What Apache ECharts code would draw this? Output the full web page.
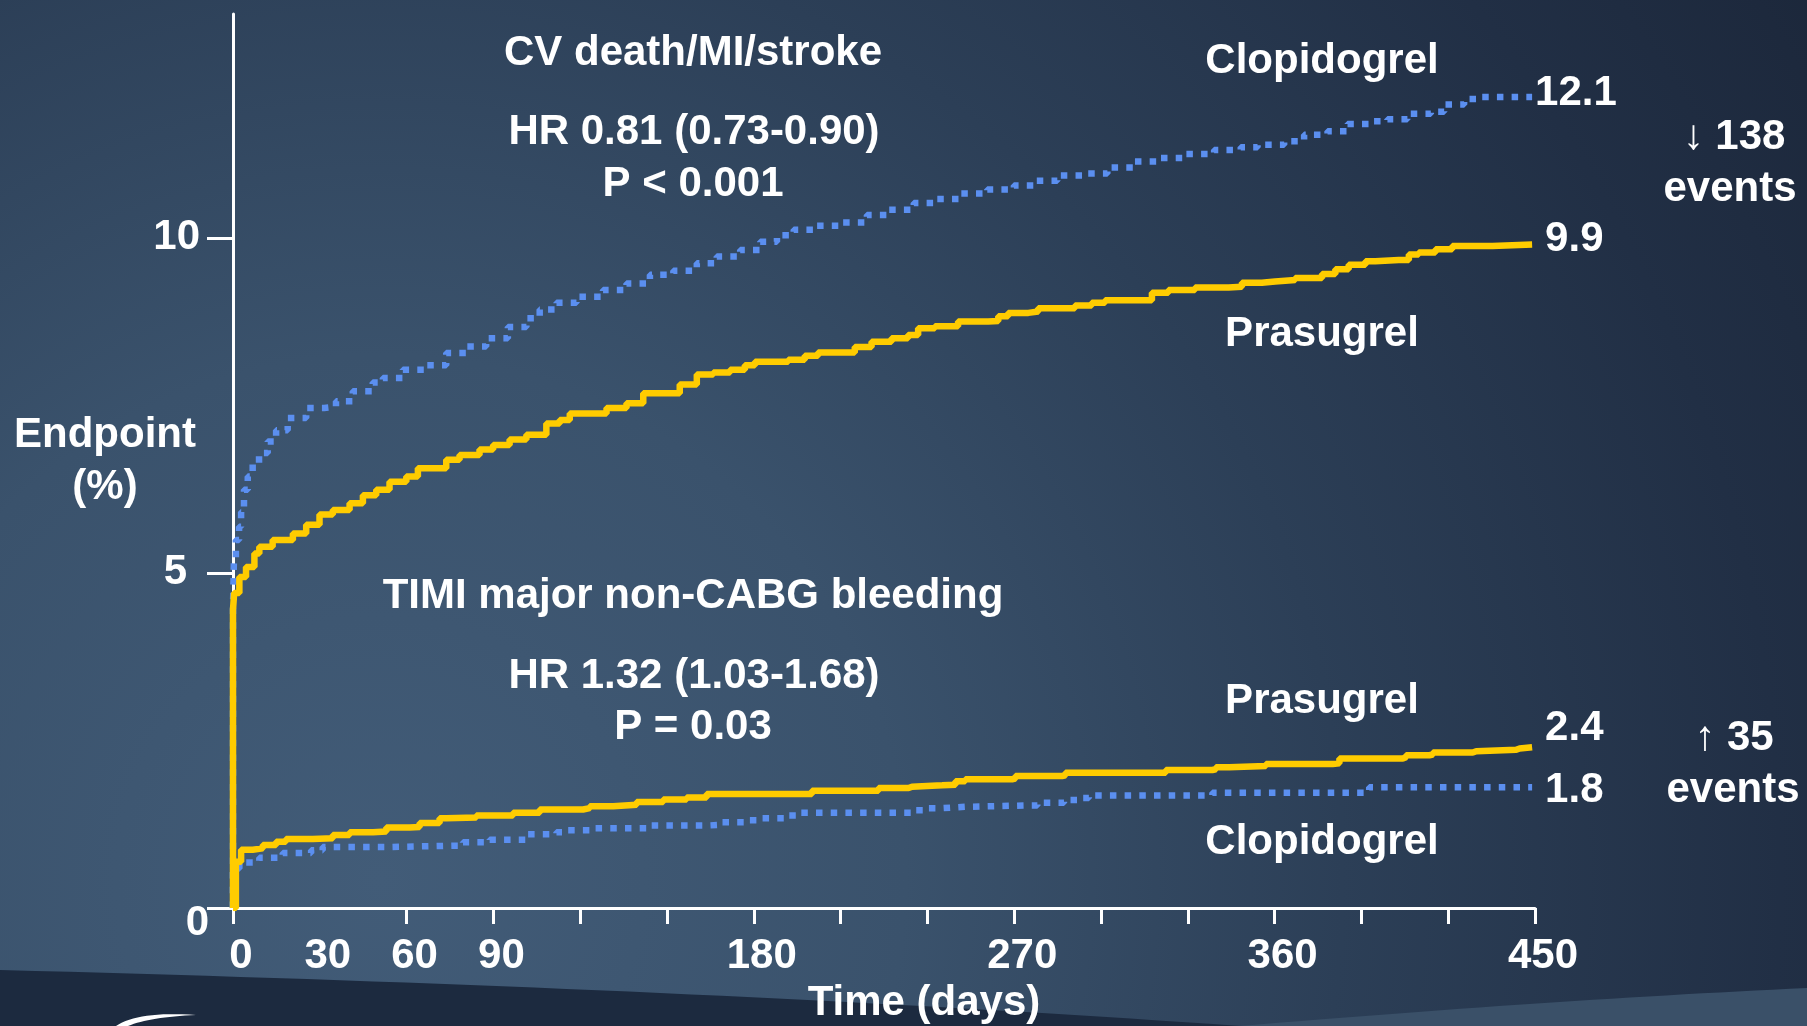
<!DOCTYPE html>
<html>
<head>
<meta charset="utf-8">
<title>CV death/MI/stroke and TIMI major non-CABG bleeding</title>
<script src="https://cdn.jsdelivr.net/npm/echarts@6/dist/echarts.min.js"></script>
<style>
  html, body { margin: 0; padding: 0; background: #1b2639; overflow: hidden; }
  #chart { width: 1807px; height: 1026px; }
</style>
</head>
<body>
<div id="chart"></div>
<script>
// Kaplan-Meier cumulative event rates, [day, percent]

// CV death / MI / stroke — clopidogrel
const cvClopidogrel = [
  [0, 0], [0, 4.5], [0.3, 5.15], [1.0, 5.49], [2.1, 5.69], [2.8, 5.91], [3.8, 6.24],
  [5.1, 6.44], [6.8, 6.64], [9.0, 6.79], [12.0, 6.96], [14.9, 7.13], [18.9, 7.31],
  [25.3, 7.46], [31.5, 7.48], [35.6, 7.56], [41.4, 7.71], [48.3, 7.84], [51.8, 7.91],
  [58.7, 8.03], [66.8, 8.10], [73.7, 8.28], [80.6, 8.38], [87.5, 8.50], [95.0, 8.67],
  [101.4, 8.80], [106.0, 8.93], [111.8, 9.03], [118.7, 9.12], [127.9, 9.22], [136.0, 9.32],
  [144.1, 9.45], [152.2, 9.51], [160.3, 9.62], [167.2, 9.72], [175.3, 9.82], [182.2, 9.94],
  [188.0, 10.04], [193.8, 10.12], [201.8, 10.18], [209.9, 10.23], [219.1, 10.34], [226.0, 10.42],
  [235.3, 10.52], [243.4, 10.58], [251.4, 10.66], [260.7, 10.72], [269.9, 10.78], [276.8, 10.85],
  [284.9, 10.93], [294.1, 10.96], [302.2, 11.05], [311.4, 11.14], [320.6, 11.19], [328.7, 11.25],
  [339.1, 11.31], [348.3, 11.35], [354.1, 11.39], [363.3, 11.44], [370.2, 11.54], [378.3, 11.59],
  [385.2, 11.70], [393.3, 11.74], [399.0, 11.77], [405.9, 11.85], [414.0, 11.88], [418.6, 11.99],
  [425.5, 12.07], [430.1, 12.10], [449, 12.10]
];

// CV death / MI / stroke — prasugrel
const cvPrasugrel = [
  [0, 0], [0, 4.45], [0.4, 4.70], [2.2, 4.94], [4.5, 5.09], [7.4, 5.29], [9.1, 5.39],
  [13.7, 5.49], [17.2, 5.49], [20.7, 5.59], [25.3, 5.72], [29.9, 5.87], [34.5, 5.94],
  [40.3, 6.04], [44.9, 6.16], [49.5, 6.24], [54.1, 6.36], [59.9, 6.44], [63.9, 6.56],
  [69.1, 6.56], [73.7, 6.69], [78.3, 6.76], [85.2, 6.84], [89.9, 6.91], [95.6, 6.99],
  [101.4, 7.06], [108.3, 7.23], [112.9, 7.28], [116.4, 7.38], [125.6, 7.38], [129.1, 7.46],
  [136.0, 7.53], [141.8, 7.68], [147.5, 7.68], [154.4, 7.81], [160.3, 7.96], [166.0, 7.99],
  [171.8, 8.03], [176.9, 8.10], [180.4, 8.15], [191.9, 8.18], [197.6, 8.24], [202.2, 8.29],
  [211.4, 8.29], [214.9, 8.37], [220.7, 8.45], [227.6, 8.50], [233.3, 8.55], [236.8, 8.65],
  [242.6, 8.68], [250.6, 8.75], [261.0, 8.76], [264.5, 8.83], [267.9, 8.88], [274.9, 8.90],
  [278.3, 8.95], [288.7, 8.95], [291.0, 8.99], [296.8, 9.03], [301.4, 9.07], [314.1, 9.07],
  [317.6, 9.18], [323.3, 9.22], [332.5, 9.26], [344.1, 9.27], [348.7, 9.33], [355.6, 9.35],
  [360.2, 9.37], [367.1, 9.40], [376.4, 9.46], [381.0, 9.53], [385.6, 9.60], [391.4, 9.65],
  [394.8, 9.67], [402.9, 9.67], [406.4, 9.75], [409.8, 9.78], [415.6, 9.83], [421.4, 9.88],
  [431.8, 9.88], [435.3, 9.90], [449, 9.90]
];

// TIMI major non-CABG bleeding — prasugrel
const bleedPrasugrel = [
  [0, 0], [1.0, 0.69], [2.8, 0.87], [6.8, 0.89], [10.3, 0.94], [14.9, 0.99], [18.3, 1.03],
  [27.6, 1.04], [34.5, 1.09], [40.3, 1.13], [48.4, 1.14], [53.0, 1.20], [61.0, 1.21],
  [64.5, 1.27], [71.4, 1.34], [73.7, 1.35], [84.1, 1.38], [96.8, 1.42], [106.0, 1.47],
  [121.0, 1.49], [123.3, 1.52], [131.4, 1.54], [139.5, 1.58], [148.7, 1.62], [156.8, 1.65],
  [163.7, 1.70], [198.9, 1.70], [200.1, 1.75], [222.0, 1.75], [223.1, 1.79], [233.5, 1.81],
  [234.7, 1.83], [245.1, 1.84], [249.7, 1.89], [253.1, 1.92], [269.3, 1.93], [270.4, 1.97],
  [286.6, 1.98], [287.7, 2.02], [321.2, 2.02], [322.4, 2.06], [338.5, 2.07], [339.7, 2.10],
  [344.3, 2.12], [357.0, 2.15], [380.1, 2.16], [382.4, 2.23], [404.3, 2.25], [405.4, 2.28],
  [413.5, 2.29], [414.7, 2.32], [428.5, 2.34], [429.7, 2.36], [443.5, 2.38], [444.7, 2.40],
  [449, 2.40]
];

// TIMI major non-CABG bleeding — clopidogrel
const bleedClopidogrel = [
  [0, 0], [0, 0.54], [1.0, 0.59], [2.2, 0.68], [5.6, 0.68], [9.1, 0.75], [17.2, 0.82],
  [22.4, 0.82], [27.0, 0.86], [31.0, 0.91], [52.9, 0.91], [54.7, 0.93], [76.0, 0.93],
  [79.5, 0.98], [86.4, 0.98], [88.7, 1.02], [99.1, 1.02], [101.4, 1.10], [111.8, 1.13],
  [115.3, 1.16], [119.9, 1.16], [124.5, 1.19], [139.5, 1.19], [144.1, 1.23], [163.7, 1.24],
  [168.3, 1.28], [177.0, 1.31], [181.6, 1.34], [190.8, 1.38], [196.0, 1.42], [231.2, 1.42],
  [234.7, 1.46], [239.3, 1.49], [245.1, 1.51], [253.1, 1.53], [273.9, 1.53], [278.0, 1.57],
  [283.1, 1.57], [287.2, 1.61], [292.4, 1.64], [295.8, 1.68], [336.2, 1.68], [338.5, 1.72],
  [390.4, 1.72], [392.7, 1.80], [449, 1.80]
];

// Axis ticks and labels
const xTickDays = [0, 60, 90, 120, 150, 180, 210, 240, 270, 300, 330, 360, 390, 420, 450];
const xLabelDays = [0, 30, 60, 90, 180, 270, 360, 450];
const yTickValues = [0, 5, 10];

const FONT = '"Liberation Sans", Arial, Helvetica, sans-serif';
const WHITE = '#ffffff';
const YELLOW = '#ffcc00';
const BLUE = '#5b8ff0';

const chart = echarts.init(document.getElementById('chart'), null, { renderer: 'canvas' });

const labelFont = { color: WHITE, fontSize: 42, fontWeight: 'bold', fontFamily: FONT };

function label(text, x, y) {
  return {
    type: 'text', x: x, y: y, z: 50, silent: true,
    style: {
      text: text, fill: WHITE, align: 'center', verticalAlign: 'middle',
      font: 'bold 42px ' + FONT
    }
  };
}

function endLabel(offset) {
  return Object.assign({
    show: true,
    distance: 3,
    offset: offset,
    formatter: p => p.value[1].toFixed(1)
  }, labelFont);
}

// Points along a quadratic curve, for the decorative slide swooshes
function quadPoints(p0, c, p1, n) {
  const pts = [];
  for (let i = 0; i <= n; i++) {
    const t = i / n, u = 1 - t;
    pts.push([
      u * u * p0[0] + 2 * u * t * c[0] + t * t * p1[0],
      u * u * p0[1] + 2 * u * t * c[1] + t * t * p1[1]
    ]);
  }
  return pts;
}

const darkBand = quadPoints([0, 970], [700, 988], [1240, 1026], 40).concat([[0, 1026]]);
const lightBand = quadPoints([1240, 1026], [1550, 1000], [1807, 988], 30).concat([[1807, 1026]]);
const logoArc = quadPoints([116, 1026], [138, 1011], [196, 1015], 16)
  .concat(quadPoints([196, 1015], [150, 1017], [128, 1026], 16));

const bgGradient = new echarts.graphic.RadialGradient(380, 880, 1750, [
  { offset: 0, color: '#425c78' },
  { offset: 0.3, color: '#3a526c' },
  { offset: 0.55, color: '#2c3f57' },
  { offset: 0.8, color: '#212f45' },
  { offset: 1, color: '#1b2639' }
], true);

const option = {
  animation: false,
  backgroundColor: '#1b2639',
  grid: { left: 233, right: 272, top: 14, bottom: 118, outerBoundsMode: 'none' },
  xAxis: {
    type: 'value', min: 0, max: 450, interval: 30,
    axisLine: { show: true, onZero: false, lineStyle: { color: WHITE, width: 3 } },
    axisTick: { show: true, length: 16, customValues: xTickDays, lineStyle: { color: WHITE, width: 3 } },
    axisLabel: Object.assign({ customValues: xLabelDays, margin: 27, padding: [0, 0, 0, 16] }, labelFont),
    splitLine: { show: false },
    name: 'Time (days)', nameLocation: 'middle', nameGap: 74, nameMoveOverlap: false,
    nameTextStyle: Object.assign({ padding: [0, 0, 0, 80] }, labelFont)
  },
  yAxis: {
    type: 'value', min: 0, max: 13.34, interval: 5,
    axisLine: { show: true, onZero: false, lineStyle: { color: WHITE, width: 3 } },
    axisTick: { show: true, length: 26, customValues: yTickValues, lineStyle: { color: WHITE, width: 3 } },
    axisLabel: Object.assign({
      customValues: yTickValues, margin: 24,
      formatter: v => (v === 0 ? '{z|0}' : v === 5 ? '{f|5}' : '{t|' + v + '}'),
      rich: {
        z: Object.assign({ padding: [30, 0, 0, 0] }, labelFont),
        f: Object.assign({ padding: [0, 22, 0, 0] }, labelFont),
        t: Object.assign({ padding: [0, 9, 0, 0] }, labelFont)
      }
    }, labelFont),
    splitLine: { show: false },
    name: 'Endpoint\n(%)', nameLocation: 'middle', nameRotate: 0, nameGap: 128, nameMoveOverlap: false,
    nameTextStyle: Object.assign({
      align: 'center', verticalAlign: 'middle', lineHeight: 52, padding: [30, 0, 0, 0]
    }, labelFont)
  },
  series: [
    {
      name: 'Clopidogrel CV death/MI/stroke', type: 'line', step: 'end', data: cvClopidogrel,
      showSymbol: false, z: 3,
      lineStyle: { color: BLUE, width: 6.5, type: [6.5, 8.2], cap: 'butt' },
      endLabel: endLabel([0, -4])
    },
    {
      name: 'Clopidogrel TIMI major bleeding', type: 'line', step: 'end', data: bleedClopidogrel,
      showSymbol: false, z: 3,
      lineStyle: { color: BLUE, width: 6.5, type: [6.5, 8.2], cap: 'butt' },
      endLabel: endLabel([10, 3])
    },
    {
      name: 'Prasugrel CV death/MI/stroke', type: 'line', step: 'end', data: cvPrasugrel,
      showSymbol: false, z: 4,
      lineStyle: { color: YELLOW, width: 6.5 },
      endLabel: endLabel([10, -5])
    },
    {
      name: 'Prasugrel TIMI major bleeding', type: 'line', step: 'end', data: bleedPrasugrel,
      showSymbol: false, z: 4,
      lineStyle: { color: YELLOW, width: 6.5 },
      endLabel: endLabel([10, -19])
    }
  ],
  graphic: [
    // slide background
    { type: 'rect', z: -100, silent: true, shape: { x: 0, y: 0, width: 1807, height: 1026 }, style: { fill: bgGradient } },
    { type: 'polygon', z: -90, silent: true, shape: { points: darkBand }, style: { fill: '#1c2a3f' } },
    { type: 'polygon', z: -90, silent: true, shape: { points: lightBand }, style: { fill: '#3a5068' } },
    { type: 'polygon', z: -80, silent: true, shape: { points: logoArc }, style: { fill: '#ffffff' } },

    // efficacy panel annotations
    label('CV death/MI/stroke', 693, 53),
    label('HR 0.81 (0.73-0.90)', 694, 132),
    label('P < 0.001', 693, 184),
    label('Clopidogrel', 1322, 61),
    label('Prasugrel', 1322, 334),
    label('\u2193 138', 1734, 137),
    label('events', 1730, 189),

    // safety panel annotations
    label('TIMI major non-CABG bleeding', 693, 596),
    label('HR 1.32 (1.03-1.68)', 694, 676),
    label('P = 0.03', 693, 727),
    label('Prasugrel', 1322, 701),
    label('Clopidogrel', 1322, 842),
    label('\u2191 35', 1734, 738),
    label('events', 1733, 790)
  ]
};

chart.setOption(option);
</script>
</body>
</html>
